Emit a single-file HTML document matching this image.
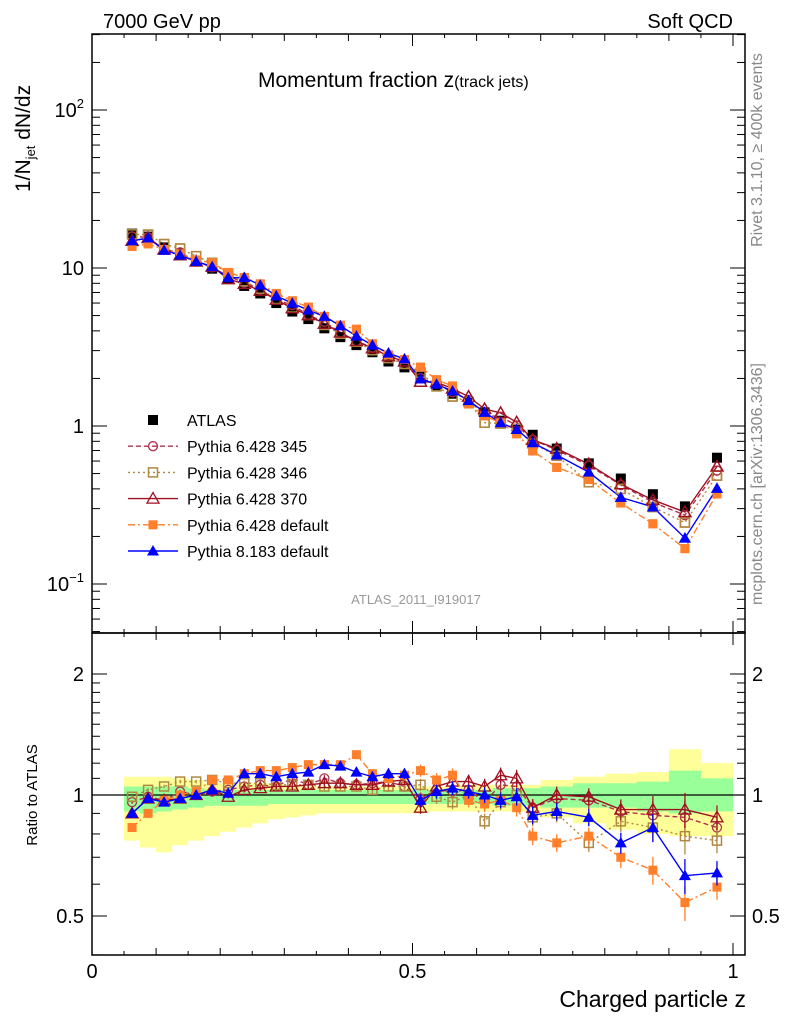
<!DOCTYPE html>
<html><head><meta charset="utf-8">
<style>
html,body{margin:0;padding:0;background:#fff;}
svg{display:block;font-family:"Liberation Sans",sans-serif;}
</style></head>
<body>
<svg id="chart" width="786" height="1024" viewBox="0 0 786 1024" xmlns="http://www.w3.org/2000/svg">
<text x="103" y="28" font-size="20">7000 GeV pp</text>
<text x="733" y="28" font-size="20" text-anchor="end">Soft QCD</text>
<text x="258" y="87" font-size="21">Momentum fraction z<tspan font-size="16">(track jets)</tspan></text>
<text x="416" y="604" font-size="13" fill="#999" text-anchor="middle">ATLAS_2011_I919017</text>
<text transform="translate(762,150) rotate(-90)" font-size="16" fill="#888" text-anchor="middle">Rivet 3.1.10, ≥ 400k events</text>
<text transform="translate(762,484) rotate(-90)" font-size="16" fill="#888" text-anchor="middle">mcplots.cern.ch [arXiv:1306.3436]</text>
<text transform="translate(30,192) rotate(-90)" font-size="21">1/N<tspan font-size="13" dy="5">jet</tspan><tspan dy="-5"> dN/dz</tspan></text>
<text transform="translate(37,795) rotate(-90)" font-size="15" text-anchor="middle">Ratio to ATLAS</text>
<text x="746" y="1007" font-size="23" text-anchor="end">Charged particle z</text>
<defs>
<clipPath id="cm"><rect x="92" y="34" width="653" height="599"/></clipPath>
<clipPath id="cr"><rect x="92" y="633" width="653" height="322"/></clipPath>
</defs>
<g id="bands" clip-path="url(#cr)"></g>
<g id="marks"></g>
<g id="axes"></g>
<g id="legend"></g>
</svg>
<script>
const zVals=[0.0625,0.0875,0.1125,0.1375,0.1625,0.1875,0.2125,0.2375,0.2625,0.2875,0.3125,0.3375,0.3625,0.3875,0.4125,0.4375,0.4625,0.4875,0.5125,0.5375,0.5625,0.5875,0.6125,0.6375,0.6625,0.6875,0.725,0.775,0.825,0.875,0.925,0.975];
const binLo=[0.05,0.075,0.1,0.125,0.15,0.175,0.2,0.225,0.25,0.275,0.3,0.325,0.35,0.375,0.4,0.425,0.45,0.475,0.5,0.525,0.55,0.575,0.6,0.625,0.65,0.675,0.7,0.75,0.8,0.85,0.9,0.95];
const binHi=[0.075,0.1,0.125,0.15,0.175,0.2,0.225,0.25,0.275,0.3,0.325,0.35,0.375,0.4,0.425,0.45,0.475,0.5,0.525,0.55,0.575,0.6,0.625,0.65,0.675,0.7,0.75,0.8,0.85,0.9,0.95,1.0];
const atlas=[16.5,15.8,13.5,12.3,11.0,9.9,8.6,7.7,6.9,6.0,5.3,4.75,4.15,3.65,3.25,2.93,2.56,2.35,2.05,1.8,1.6,1.42,1.22,1.08,0.96,0.88,0.72,0.58,0.465,0.37,0.31,0.63];
const r345=[0.96,0.99,0.97,1.02,1.0,1.02,1.03,1.05,1.06,1.05,1.1,1.06,1.1,1.07,1.06,1.07,1.08,1.05,0.98,1.03,1.02,1.03,0.96,1.06,1.05,0.93,0.98,0.97,0.91,0.89,0.88,0.83];
const r346=[0.99,1.03,1.05,1.08,1.08,1.09,1.07,1.07,1.07,1.06,1.06,1.06,1.05,1.05,1.05,1.03,1.05,1.05,1.06,0.99,0.96,1.0,0.86,0.96,1.0,0.88,0.9,0.76,0.86,0.83,0.79,0.77];
const r370=[0.90,0.98,0.97,0.98,1.0,1.03,0.99,1.03,1.04,1.05,1.05,1.06,1.07,1.07,1.06,1.06,1.08,1.09,0.93,1.05,1.08,1.08,1.05,1.12,1.1,0.93,1.0,0.99,0.92,0.92,0.92,0.88];
const rDef=[0.83,0.9,0.97,1.0,1.02,1.09,1.09,1.13,1.15,1.15,1.17,1.19,1.19,1.19,1.26,1.13,1.10,1.12,1.15,1.09,1.12,0.97,0.95,0.97,0.93,0.79,0.76,0.79,0.70,0.65,0.54,0.59];
const rP8=[0.90,0.98,0.96,0.98,1.0,1.03,1.01,1.13,1.13,1.11,1.13,1.14,1.19,1.18,1.14,1.11,1.13,1.13,0.97,1.02,1.04,1.02,1.0,0.97,0.99,0.89,0.91,0.88,0.76,0.83,0.63,0.64];
const mcErr=[0.01,0.01,0.01,0.01,0.01,0.01,0.01,0.015,0.015,0.015,0.02,0.02,0.02,0.02,0.025,0.025,0.03,0.03,0.035,0.04,0.04,0.04,0.045,0.045,0.05,0.05,0.05,0.05,0.06,0.08,0.1,0.07];
const greenHi=[1.05,1.05,1.05,1.05,1.04,1.03,1.03,1.03,1.03,1.03,1.03,1.03,1.03,1.03,1.03,1.03,1.03,1.03,1.03,1.03,1.03,1.03,1.03,1.04,1.04,1.04,1.05,1.07,1.07,1.08,1.15,1.1];
const greenLo=[0.91,0.9,0.91,0.92,0.93,0.94,0.94,0.94,0.94,0.95,0.95,0.95,0.95,0.95,0.95,0.95,0.95,0.95,0.95,0.95,0.95,0.95,0.95,0.94,0.94,0.94,0.93,0.93,0.93,0.91,0.9,0.91];
const yellowHi=[1.11,1.11,1.11,1.1,1.09,1.07,1.07,1.07,1.07,1.07,1.05,1.05,1.05,1.05,1.05,1.05,1.05,1.05,1.05,1.05,1.05,1.06,1.06,1.06,1.06,1.06,1.09,1.11,1.13,1.14,1.3,1.2];
const yellowLo=[0.77,0.74,0.72,0.75,0.77,0.79,0.81,0.83,0.85,0.87,0.88,0.89,0.9,0.9,0.9,0.9,0.9,0.9,0.9,0.91,0.91,0.91,0.91,0.91,0.91,0.91,0.88,0.85,0.82,0.8,0.79,0.79];
const mainTicks=["10⁻¹","1","10","10²"];
const ratioTickVals=[0.5,1,2];
const ratioTickLabels=["0.5","1","2"];
const xTickVals=[0,0.5,1];
const xTickLabels=["0","0.5","1"];
const legendLabels=["ATLAS","Pythia 6.428 345","Pythia 6.428 346","Pythia 6.428 370","Pythia 6.428 default","Pythia 8.183 default"];

const NS="http://www.w3.org/2000/svg";
const X=z=>92+z*641;
const Y=v=>426-158*Math.log10(v);
const R=r=>795-121*Math.log2(r);
function mk(tag,attrs,parent){const e=document.createElementNS(NS,tag);for(const k in attrs)e.setAttribute(k,attrs[k]);parent.appendChild(e);return e;}
const bands=document.getElementById('bands'),marks=document.getElementById('marks'),axes=document.getElementById('axes'),legend=document.getElementById('legend');

function bandPath(hi,lo){let top='',bot='';for(let i=0;i<zVals.length;i++){top+=(i?'L':'M')+X(binLo[i])+','+R(hi[i])+'L'+X(binHi[i])+','+R(hi[i]);}for(let i=zVals.length-1;i>=0;i--){bot+='L'+X(binHi[i])+','+R(lo[i])+'L'+X(binLo[i])+','+R(lo[i]);}return top+bot+'Z';}
let yb=mk('path',{d:bandPath(yellowHi,yellowLo),fill:'#ffff99'},bands);


let gb=mk('path',{d:bandPath(greenHi,greenLo),fill:'#99ff99'},bands);


let ol=mk('line',{x1:92,x2:745,y1:R(1),y2:R(1),stroke:'#000','stroke-width':1.3},bands);



const series=[
 {name:'pythia6-345',r:r345,color:'#b03050',dash:'5,3',marker:'circle'},
 {name:'pythia6-346',r:r346,color:'#b08840',dash:'2,3',marker:'osquare'},
 {name:'pythia6-370',r:r370,color:'#a01020',dash:'',marker:'otri'},
 {name:'pythia6-default',r:rDef,color:'#ff7f2a',dash:'7,3,2,3',marker:'fsquare'},
 {name:'pythia8-default',r:rP8,color:'#0000ff',dash:'',marker:'ftri'}
];
function marker(type,x,y,color,parent){
 if(type==='circle')return mk('circle',{cx:x,cy:y,r:4.5,fill:'none',stroke:color,'stroke-width':1.3},parent);
 if(type==='osquare')return mk('rect',{x:x-4.5,y:y-4.5,width:9,height:9,fill:'none',stroke:color,'stroke-width':1.5},parent);
 if(type==='fsquare')return mk('rect',{x:x-4.5,y:y-4.5,width:9,height:9,fill:color},parent);
 if(type==='bsquare')return mk('rect',{x:x-5,y:y-5,width:10,height:10,fill:color},parent);
 const pts=`${x},${y-6} ${x-6},${y+4.5} ${x+6},${y+4.5}`;
 if(type==='otri')return mk('polygon',{points:pts,fill:'none',stroke:color,'stroke-width':1.3},parent);
 return mk('polygon',{points:pts,fill:color},parent);
}
const gm=mk('g',{'clip-path':'url(#cm)'},marks);
const gr=mk('g',{'clip-path':'url(#cr)'},marks);
series.forEach(s=>{
 const mainPts=zVals.map((z,i)=>X(z)+','+Y(atlas[i]*s.r[i])).join(' ');
 const ratPts=zVals.map((z,i)=>X(z)+','+R(s.r[i])).join(' ');
 let l1=mk('polyline',{points:mainPts,fill:'none',stroke:s.color,'stroke-width':1.4,'stroke-dasharray':s.dash},gm);
 
 
 let l2=mk('polyline',{points:ratPts,fill:'none',stroke:s.color,'stroke-width':1.4,'stroke-dasharray':s.dash},gr);
 
 
 zVals.forEach((z,i)=>{
  const v=atlas[i]*s.r[i];
  mk('line',{x1:X(z),x2:X(z),y1:R(s.r[i]*(1+mcErr[i])),y2:R(s.r[i]*(1-mcErr[i])),stroke:s.color,'stroke-width':1.3},gr);
  let m1=marker(s.marker,X(z),Y(v),s.color,gm);
  
  
  let m2=marker(s.marker,X(z),R(s.r[i]),s.color,gr);
  
  
 });
});
zVals.forEach((z,i)=>{
 let m=marker('bsquare',X(z),Y(atlas[i]),'#000',gm);
 
 
});
series.forEach(s=>{zVals.forEach((z,i)=>{let m=marker(s.marker,X(z),Y(atlas[i]*s.r[i]),s.color,gm);
});});

let f1=mk('rect',{x:92,y:34,width:653,height:599,fill:'none',stroke:'#000','stroke-width':1.5},axes);


let f2=mk('rect',{x:92,y:633,width:653,height:322,fill:'none',stroke:'#000','stroke-width':1.5},axes);


for(let k=0;k<=20;k++){const z=k*0.05;const len=(k%10===0)?12:(k%2===0?7:4);const x=X(z);
 [[34,1],[633,-1],[633,1],[955,-1]].forEach(([y,d])=>mk('line',{x1:x,x2:x,y1:y,y2:y+d*len,stroke:'#000','stroke-width':1},axes));}
xTickVals.forEach((v,i)=>{let t=mk('text',{x:X(v),y:978,'font-size':20,'text-anchor':'middle'},axes);t.textContent=xTickLabels[i];

});
for(let e=-2;e<=2;e++){for(let m=1;m<=9;m++){const v=m*Math.pow(10,e);const y=Y(v);if(y<34||y>633)continue;const len=m===1?15:8;
 mk('line',{x1:92,x2:92+len,y1:y,y2:y,stroke:'#000','stroke-width':1},axes);
 mk('line',{x1:745,x2:745-len,y1:y,y2:y,stroke:'#000','stroke-width':1},axes);}}
[-1,0,1,2].forEach((e,i)=>{let t=mk('text',{x:84,y:Y(Math.pow(10,e))+7,'font-size':20,'text-anchor':'end'},axes);
 if(e===-1){t.innerHTML='10<tspan font-size="13" dy="-9">−1</tspan>';}else if(e===2){t.innerHTML='10<tspan font-size="13" dy="-9">2</tspan>';}else t.textContent=mainTicks[i];
 
 });
[0.4,0.5,0.6,0.7,0.8,0.9,1,1.1,1.2,1.3,1.4,1.5,1.6,1.7,1.8,1.9,2].forEach(v=>{const y=R(v);if(y<633||y>955)return;const len=ratioTickVals.includes(v)?15:8;
 mk('line',{x1:92,x2:92+len,y1:y,y2:y,stroke:'#000','stroke-width':1},axes);
 mk('line',{x1:745,x2:745-len,y1:y,y2:y,stroke:'#000','stroke-width':1},axes);});
ratioTickVals.forEach((v,i)=>{[[84,'end'],[752,'start']].forEach(([x,a])=>{let t=mk('text',{x:x,y:R(v)+7,'font-size':20,'text-anchor':a},axes);t.textContent=ratioTickLabels[i];
 
 });});
const legMarkers=['bsquare','circle','osquare','otri','fsquare','ftri'];
const legColors=['#000','#b03050','#b08840','#a01020','#ff7f2a','#0000ff'];
const legDash=[null,'5,3','2,3','','7,3,2,3',''];
legendLabels.forEach((lab,i)=>{const y=420+i*26.2;const g=mk('g',{},legend);
 
 
 if(legDash[i]!==null)mk('line',{x1:128,x2:178,y1:y,y2:y,stroke:legColors[i],'stroke-width':1.4,'stroke-dasharray':legDash[i]},g);
 marker(legMarkers[i],153,y,legColors[i],g);
 const t=mk('text',{x:187,y:y+6,'font-size':16},g);t.textContent=lab;});
</script>
</body></html>
